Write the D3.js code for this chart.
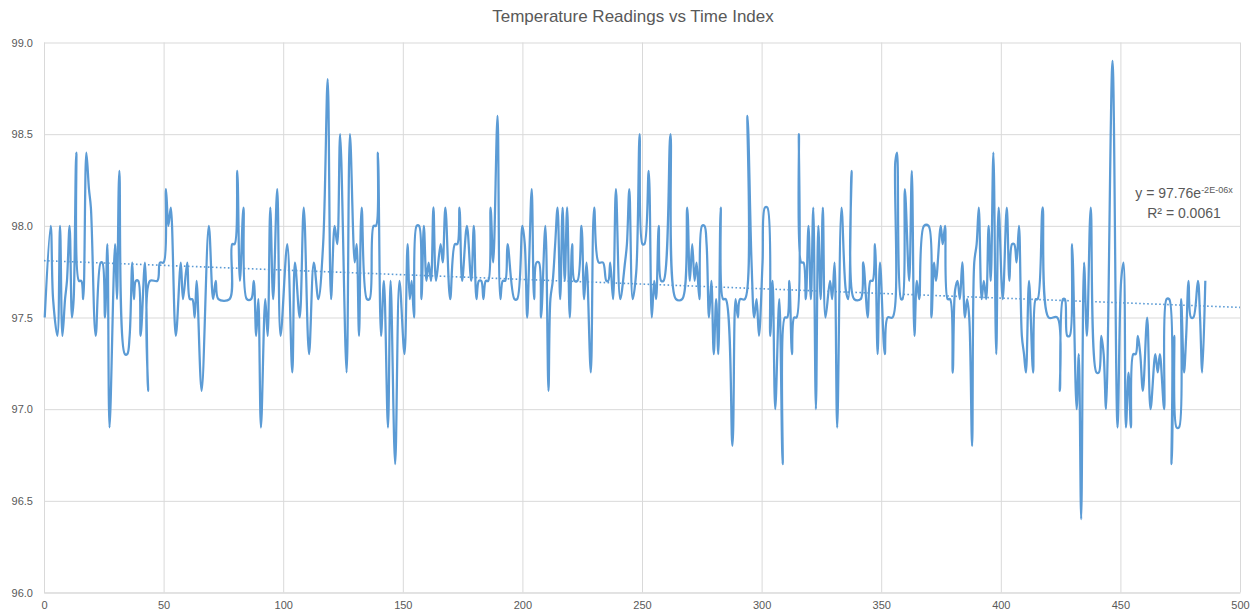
<!DOCTYPE html>
<html>
<head>
<meta charset="utf-8">
<script src="https://cdn.jsdelivr.net/npm/d3@7"></script>
<style>
  body { margin: 0; background: #fff; }
  text { font-family: "Liberation Sans", Arial, sans-serif; fill: #595959; }
</style>
</head>
<body>
<svg id="chart"></svg>
<script>
// readings: time index and temperature
var timeIndex = [
  0.3, 2.8, 3.8, 5.6, 6.7, 7.7, 8.8, 9.6, 10.7, 11.7, 12.4, 13.5, 14.6, 15.6, 16.4, 17.7, 18.8, 19.6,
  21.6, 23.7, 24.4, 25.5, 26.5, 27.4, 29.7, 30.5, 31.5, 33.8, 34.8, 35.8, 36.9, 37.6, 38.4, 39.4,
  40.4, 42.2, 43.5, 44.3, 47.4, 48.5, 50, 51, 52, 53, 55.1, 57.2, 58.1, 59.9, 61, 62, 63, 63.8,
  65.9, 68.9, 70.7, 71.8, 72.9, 77.6, 78.7, 79.7, 80.8, 81.9, 83.4, 84.8, 86.6, 87.7, 88.7, 89.6,
  90.7, 92.5, 93.5, 94.6, 95.8, 97.5, 98.9, 101.7, 103.8, 104.9, 106.9, 108.6, 110.8, 112.8, 114.7,
  116.7, 118.6, 120, 121.5, 122.6, 123.8, 126.5, 127.9, 129.9, 130.7, 131.7, 132.8, 135, 136.1,
  137.8, 138.8, 139.6, 140.9, 142.1, 143.8, 144.9, 146.8, 148.6, 150.7, 152, 152.9, 153.7, 154.7,
  155.8, 156.8, 157.8, 158.8, 159.9, 160.8, 161.8, 162.8, 163.9, 165.8, 166.7, 167.8, 169.8, 171.8,
  172.8, 173.7, 174.8, 176.8, 178.6, 179.7, 180.8, 181.8, 182.8, 183.7, 184.7, 185.7, 186.7, 187.8,
  189.6, 190.8, 191.8, 192.8, 193.8, 196.7, 197.8, 200, 201, 202, 202.8, 203.9, 204.9, 205.9, 206.9,
  207.8, 209.6, 210.9, 211.7, 212.7, 213.7, 214.7, 215.8, 216.8, 217.7, 218.7, 219.8, 220.8, 221.8,
  223, 224.7, 225.8, 226.8, 228.6, 230, 231.9, 233.7, 235.1, 235.9, 236.7, 237.9, 239.1, 240.9,
  242.9, 243.7, 244.7, 246.1, 247.6, 249, 250.2, 251, 252.8, 254.1, 255.1, 255.9, 257, 258, 259,
  261.9, 264.2, 266.8, 268.9, 270, 271, 272, 272.8, 274, 275.1, 276.1, 277, 278, 279, 280, 281,
  281.9, 282.9, 283.9, 285, 287.8, 289.1, 290.1, 291, 293, 294.1, 295.8, 296.9, 297.9, 298.9, 300.4,
  301.4, 302.4, 303.6, 304.6, 305.7, 307.4, 308.8, 309.7, 310.7, 311.6, 312.7, 313.6, 314.6, 315.6,
  316.6, 317.5, 318.5, 319.6, 320.6, 321.6, 322.7, 323.7, 324.7, 325.6, 326.7, 328.6, 329.5, 330.5,
  331.6, 333.4, 335.2, 336.2, 337.6, 338.7, 341.4, 342.5, 344.4, 345.5, 346.4, 347.4, 348.5, 349.5,
  351.5, 352.7, 354.7, 355.9, 356.6, 358.3, 358.9, 359.9, 361.7, 362.8, 363.9, 364.9, 365.9, 367.9,
  369.8, 371, 372.1, 372.9, 374.9, 375.7, 376.7, 377.8, 378.8, 379.9, 380.9, 381.9, 382.9, 383.9,
  385, 385.9, 386.8, 388, 388.9, 389.9, 390.8, 392, 392.9, 393.9, 394.9, 395.8, 396.9, 398.1, 399.1,
  400.8, 402.5, 403.6, 404.7, 405.6, 406.6, 407.6, 408.8, 409.7, 410.5, 411.8, 413.5, 414.6, 415.4,
  417.5, 420, 423.6, 424.7, 426, 426.8, 427.8, 428.8, 429.8, 431.7, 432.6, 433.6, 434.8, 436, 437.6,
  440, 441, 442, 443, 444, 446.7, 448.8, 450.3, 451.3, 452.3, 453.4, 454.4, 455.4, 456.4, 457.3,
  458.3, 459.4, 461.2, 462.6, 464.6, 465.6, 466.5, 468.3, 469.3, 470.4, 471.4, 472.5, 473.5, 474.5,
  475.4, 476.6, 477.5, 478.5, 479.5, 480.5, 482.4, 483.3, 484.2, 485.5
];
var temperature = [
  97.5, 98.0, 97.6, 97.4, 98.0, 97.4, 97.6, 97.7, 98.0, 97.5, 97.6, 98.4, 97.7, 97.7, 97.6, 98.4, 98.2, 98.1,
  97.4, 97.8, 97.8, 97.5, 97.9, 96.9, 97.9, 97.6, 98.3, 97.3, 97.3, 97.4, 97.8, 97.6, 97.7, 97.7,
  97.4, 97.8, 97.1, 97.7, 97.7, 97.8, 97.8, 98.2, 98.0, 98.1, 97.4, 97.8, 97.6, 97.8, 97.6, 97.6, 97.5, 97.7,
  97.1, 98.0, 97.6, 97.7, 97.6, 97.6, 97.9, 97.9, 98.3, 97.7, 98.1, 97.6, 97.6, 97.7, 97.4, 97.6,
  96.9, 97.6, 97.4, 98.1, 97.6, 98.2, 97.4, 97.9, 97.2, 97.8, 97.5, 98.1, 97.3, 97.8, 97.6,
  97.9, 98.8, 97.6, 98.0, 97.9, 98.5, 97.2, 98.5, 97.8, 97.9, 97.4, 98.1, 97.6, 97.6,
  98.0, 98.0, 98.4, 97.4, 97.7, 96.9, 97.7, 96.7, 97.7, 97.3, 97.9, 97.6, 97.7, 97.5,
  98.0, 98.0, 97.6, 98.0, 97.7, 97.8, 97.7, 98.1, 97.7, 97.9, 97.8, 98.1, 97.6, 97.9,
  97.9, 98.1, 97.7, 98.0, 97.7, 98.0, 97.6, 97.7, 97.7, 97.6, 97.7, 97.7, 98.1, 97.8,
  98.6, 97.6, 97.7, 97.7, 97.9, 97.6, 97.6, 98.0, 97.9, 97.5, 97.8, 98.2, 97.6, 97.8, 97.8,
  97.5, 98.0, 97.1, 97.6, 97.7, 97.9, 98.1, 97.6, 98.1, 97.7, 98.1, 97.5, 97.9, 97.7,
  97.7, 98.0, 97.6, 97.8, 97.2, 98.1, 97.8, 97.8, 97.7, 97.7, 97.8, 97.6, 98.2, 97.6,
  97.8, 97.9, 98.2, 97.6, 97.75, 98.5, 97.9, 97.9, 98.3, 97.5, 97.7, 97.6, 98.0, 97.7, 97.7,
  98.5, 97.6, 97.6, 98.1, 97.7, 97.9, 97.7, 97.8, 97.6, 98.0, 98.0, 97.9, 97.5, 97.7, 97.3, 97.6,
  97.3, 98.1, 97.6, 97.6, 96.8, 97.6, 97.5, 97.6, 97.6, 98.6, 97.8, 97.5, 97.6, 97.4, 97.8,
  98.1, 98.1, 97.4, 97.7, 97.0, 97.6, 96.7, 97.5, 97.5, 97.7, 97.3, 97.5, 97.5, 98.5,
  97.8, 97.8, 97.6, 98.0, 97.6, 98.1, 97.0, 98.0, 97.6, 98.1, 97.5, 97.7, 97.6, 97.8,
  96.9, 98.1, 97.65, 97.6, 98.3, 97.6, 97.6, 97.8, 97.5, 97.7, 97.7, 97.9, 97.3, 97.8,
  97.3, 97.5, 97.5, 98.35, 98.4, 97.6, 97.6, 98.2, 97.7, 98.3, 97.4, 97.7, 97.6, 98.0,
  98.0, 97.5, 97.8, 97.7, 98.0, 97.9, 98.0, 97.6, 97.6, 97.2, 97.65, 97.7, 97.6, 97.8,
  97.5, 97.6, 97.5, 96.8, 97.8, 97.9, 98.1, 97.6, 97.7, 97.6, 98.0, 97.7, 98.4, 97.3, 98.1,
  97.6, 98.1, 97.7, 97.9, 97.9, 97.8, 98.0, 97.4, 97.3, 97.2, 97.7, 97.2, 97.6, 97.6,
  98.1, 97.5, 97.5, 97.1, 97.6, 97.6, 97.4, 97.4, 97.9, 97.0, 97.3, 96.4, 97.8, 97.4, 98.1,
  97.2, 97.2, 97.4, 97.3, 97.0, 98.9, 96.9, 97.7, 97.8, 96.9, 97.2, 96.9, 97.3, 97.3, 97.4,
  97.3, 97.1, 97.5, 97.0, 97.3, 97.2, 97.3, 97.0, 97.6, 97.6, 96.7, 97.4, 96.9, 96.9,
  97.6, 97.2, 97.4, 97.7, 97.5, 97.5, 97.7, 97.5, 97.2, 97.7
];
var xTicks = [0, 50, 100, 150, 200, 250, 300, 350, 400, 450, 500];
var yTicks = [96.0, 96.5, 97.0, 97.5, 98.0, 98.5, 99.0];
// trendline ends as drawn (exponential fit)
var trendStart = 97.81, trendEnd = 97.555;

var margin = {top: 42.5, right: 15, bottom: 23.5, left: 44};
var width = 1255 - margin.left - margin.right;
var height = 616 - margin.top - margin.bottom;

var svg = d3.select("#chart")
    .attr("width", width + margin.left + margin.right)
    .attr("height", height + margin.top + margin.bottom);

svg.append("text")
    .attr("x", 633)
    .attr("y", 22)
    .attr("text-anchor", "middle")
    .attr("font-size", "17px")
    .text("Temperature Readings vs Time Index");

var g = svg.append("g")
    .attr("transform", "translate(" + margin.left + "," + margin.top + ")");

var x = d3.scaleLinear().domain([0, 500]).range([0, width]);
var y = d3.scaleLinear().domain([96, 99]).range([height, 0]);

// gridlines
g.append("g")
    .attr("transform", "translate(0," + height + ")")
    .call(d3.axisBottom(x).tickValues(xTicks).tickSize(-height).tickFormat(""))
    .call(function(a) { a.select(".domain").remove(); })
    .selectAll("line").attr("stroke", "#d9d9d9");

g.append("g")
    .call(d3.axisLeft(y).tickValues(yTicks).tickSize(-width).tickFormat(""))
    .call(function(a) { a.select(".domain").remove(); })
    .selectAll("line").attr("stroke", "#d9d9d9");

// tick labels
var xAxis = g.append("g")
    .attr("transform", "translate(0," + height + ")")
    .call(d3.axisBottom(x).tickValues(xTicks).tickSize(0).tickPadding(9).tickFormat(d3.format("d")));
xAxis.select(".domain").attr("stroke", "#d9d9d9");
xAxis.selectAll("text").attr("font-size", "11px").attr("fill", "#595959")
    .style("font-family", "'Liberation Sans', Arial, sans-serif");

var yAxis = g.append("g")
    .call(d3.axisLeft(y).tickValues(yTicks).tickSize(0).tickPadding(11).tickFormat(d3.format(".1f")));
yAxis.select(".domain").attr("stroke", "#d9d9d9");
yAxis.selectAll("text").attr("font-size", "11px").attr("fill", "#595959")
    .style("font-family", "'Liberation Sans', Arial, sans-serif");

// trendline
var tb = Math.log(trendEnd / trendStart) / 500;
var trendX = d3.range(0, 501, 10);
g.append("path")
    .datum(trendX)
    .attr("fill", "none")
    .attr("stroke", "#5b9bd5")
    .attr("stroke-width", 1.6)
    .attr("stroke-dasharray", "1.6 2.4")
    .attr("d", d3.line()
      .x(function(d) { return x(d); })
      .y(function(d) { return y(trendStart * Math.exp(tb * d)); }));

// readings
var points = timeIndex.map(function(t, i) { return [t, temperature[i]]; });
g.append("path")
    .datum(points)
    .attr("fill", "none")
    .attr("stroke", "#5b9bd5")
    .attr("stroke-width", 2.25)
    .attr("stroke-linejoin", "round")
    .attr("d", d3.line()
      .curve(d3.curveCatmullRom.alpha(0.5))
      .x(function(d) { return x(d[0]); })
      .y(function(d) { return y(d[1]); }));

// equation label
var eq = svg.append("text")
    .attr("x", 1184)
    .attr("y", 198)
    .attr("text-anchor", "middle")
    .attr("font-size", "14px");
eq.append("tspan").text("y = 97.76e");
eq.append("tspan").attr("font-size", "9px").attr("dy", "-5").text("-2E-06x");

svg.append("text")
    .attr("x", 1184)
    .attr("y", 218)
    .attr("text-anchor", "middle")
    .attr("font-size", "14px")
    .text("R² = 0.0061");
</script>
</body>
</html>
